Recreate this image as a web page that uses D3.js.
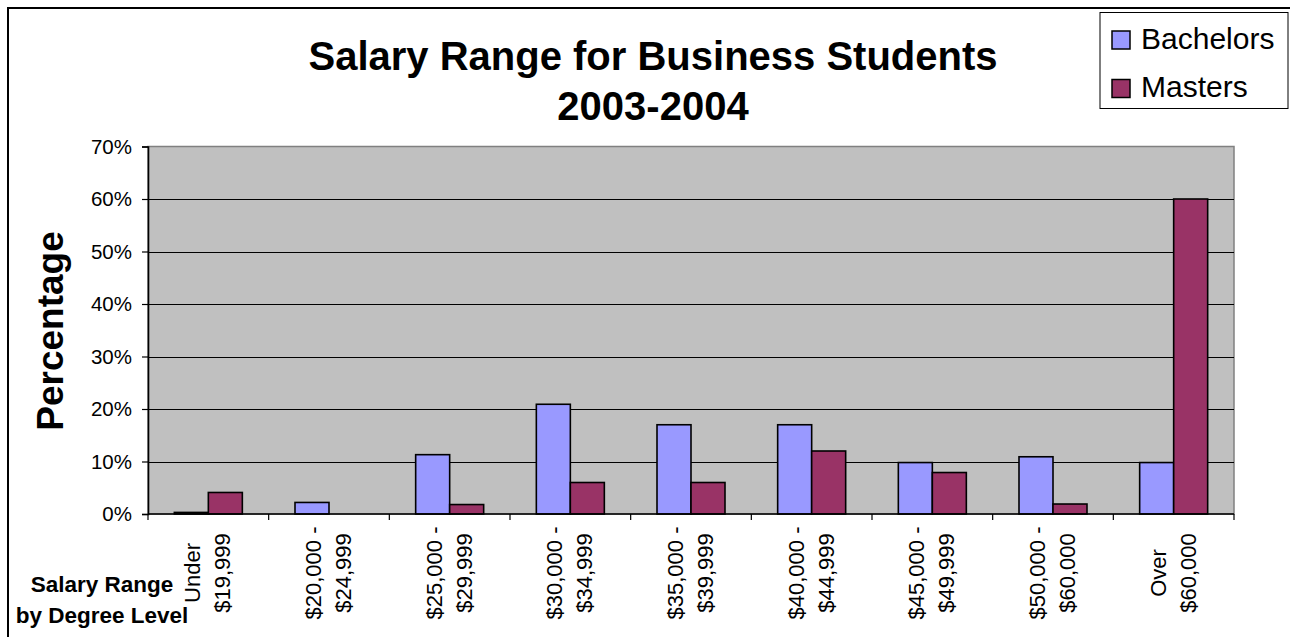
<!DOCTYPE html>
<html><head><meta charset="utf-8">
<script src="https://cdn.jsdelivr.net/npm/d3@7"></script>
<style>body{margin:0;background:#fff}svg{display:block}text{font-family:"Liberation Sans",Arial,sans-serif}</style>
</head><body><svg id="c" width="1290" height="637"></svg>
<script>
const categories = [["Under","$19,999"],["$20,000 -","$24,999"],["$25,000 -","$29,999"],["$30,000 -","$34,999"],["$35,000 -","$39,999"],["$40,000 -","$44,999"],["$45,000 -","$49,999"],["$50,000 -","$60,000"],["Over","$60,000"]];
const seriesNames = ["Bachelors","Masters"];
const bachelors = [0.3, 2.2, 11.3, 20.9, 17.0, 17.0, 9.8, 10.9, 9.8];
const masters = [4.1, 0, 1.8, 6.0, 6.0, 12.0, 7.9, 1.9, 60.0];
const yTicks = [0,10,20,30,40,50,60,70];
const colors = ["#9999FF","#993366"];

const svg = d3.select("#c");
const L=148, R=1234, T=146.5, B=514;
const x = d3.scaleBand().domain(d3.range(categories.length)).range([L,R]).paddingInner(0).paddingOuter(0);
const y = d3.scaleLinear().domain([0,70]).range([B,T]);
const barW = 34;

// outer frame
svg.append("rect").attr("x",8).attr("y",8).attr("width",1400).attr("height",700).attr("fill","none").attr("stroke","#000").attr("stroke-width",2);

// plot area
svg.append("rect").attr("x",L).attr("y",T).attr("width",R-L).attr("height",B-T).attr("fill","#C0C0C0").attr("stroke","#808080").attr("stroke-width",1.5);
// gridlines
svg.append("g").selectAll("line").data(yTicks.filter(d=>d>0&&d<70)).join("line")
  .attr("x1",L).attr("x2",R).attr("y1",d=>Math.round(y(d))+0.5).attr("y2",d=>Math.round(y(d))+0.5)
  .attr("stroke","#000").attr("stroke-width",1.2);

// bars
const data = [bachelors, masters];
data.forEach((vals,si)=>{
  svg.append("g").selectAll("rect").data(vals).join("rect")
    .attr("x",(d,i)=>x(i)+x.bandwidth()/2 - barW + si*barW)
    .attr("width",barW)
    .attr("y",d=>y(d)).attr("height",d=>B-y(d))
    .attr("fill",colors[si]).attr("stroke",d=>d>0?"#000":"none").attr("stroke-width",1.6);
});

// y axis
const ya = svg.append("g").attr("transform",`translate(${L},0)`)
  .call(d3.axisLeft(y).tickValues(yTicks).tickFormat(d=>d+"%").tickSize(6).tickPadding(10));
ya.select(".domain").attr("stroke","#000").attr("stroke-width",1.6);
ya.selectAll(".tick line").attr("stroke","#000").attr("stroke-width",1.2);
ya.selectAll("text").attr("font-size",20.5).attr("fill","#000").attr("font-family","Liberation Sans, Arial, sans-serif");

// x axis
const xa = svg.append("g").attr("transform",`translate(0,${B})`);
xa.append("line").attr("x1",L).attr("x2",R).attr("y1",0).attr("y2",0).attr("stroke","#000").attr("stroke-width",1.6);
xa.selectAll("line.t").data(d3.range(categories.length+1)).join("line").attr("class","t")
  .attr("x1",i=>i<categories.length?x(i):R).attr("x2",i=>i<categories.length?x(i):R)
  .attr("y1",0).attr("y2",6).attr("stroke","#000").attr("stroke-width",1.2);
categories.forEach((lines,i)=>{
  const cx = x(i)+x.bandwidth()/2;
  const offs = [-8, 22];
  lines.forEach((t,j)=>{
    svg.append("text").attr("transform",`translate(${cx+offs[j]},573) rotate(-90)`)
      .attr("text-anchor","middle").attr("font-size",22).attr("fill","#000").text(t);
  });
});

// title
svg.append("text").attr("x",653).attr("y",70).attr("text-anchor","middle").attr("font-size",40).attr("font-weight","bold").text("Salary Range for Business Students");
svg.append("text").attr("x",653).attr("y",120).attr("text-anchor","middle").attr("font-size",40).attr("font-weight","bold").text("2003-2004");

// y title
svg.append("text").attr("transform","translate(63,331) rotate(-90)").attr("text-anchor","middle").attr("font-size",37).attr("font-weight","bold").text("Percentage");

// x title
svg.append("text").attr("x",102).attr("y",592).attr("text-anchor","middle").attr("font-size",22.5).attr("font-weight","bold").text("Salary Range");
svg.append("text").attr("x",102).attr("y",623).attr("text-anchor","middle").attr("font-size",22.5).attr("font-weight","bold").text("by Degree Level");

// legend
const lg = svg.append("g");
lg.append("rect").attr("x",1100).attr("y",12.5).attr("width",188).attr("height",96).attr("fill","#fff").attr("stroke","#000").attr("stroke-width",1);
seriesNames.forEach((n,i)=>{
  lg.append("rect").attr("x",1112).attr("y",31+i*48.5).attr("width",18).attr("height",18).attr("fill",colors[i]).attr("stroke","#000").attr("stroke-width",1.5);
  lg.append("text").attr("x",1141).attr("y",48.5+i*48.5).attr("font-size",30).attr("fill","#000").text(n);
});
</script></body></html>
